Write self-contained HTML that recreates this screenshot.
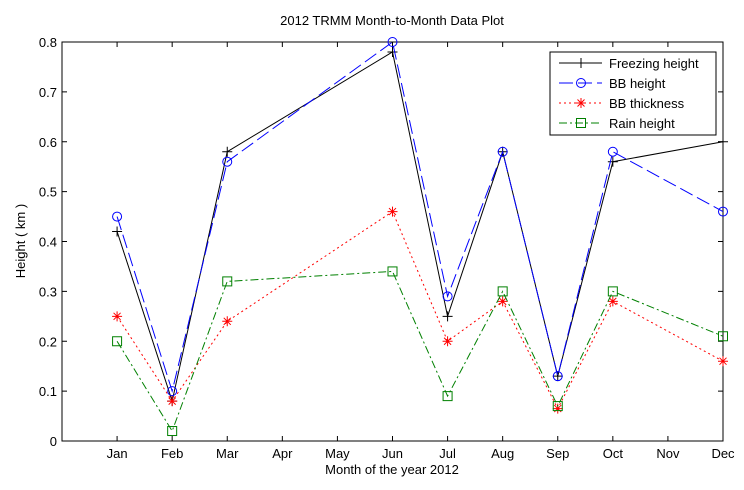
<!DOCTYPE html>
<html><head><meta charset="utf-8"><style>
body{margin:0;background:#fff;}
svg{display:block;font-family:"Liberation Sans",Arial,sans-serif;}
</style></head><body>
<svg id="chart" width="744" height="490">
<rect width="744" height="490" fill="#fff"/>
<text x="392" y="25" font-size="13" text-anchor="middle">2012 TRMM Month-to-Month Data Plot</text>
<text x="392" y="474" font-size="13" text-anchor="middle">Month of the year 2012</text>
<text x="25" y="241" font-size="13" text-anchor="middle" transform="rotate(-90 25 241)">Height ( km )</text>
<g id="axes"></g>
<g id="series"></g>
<g id="legend"></g>
</svg>
<script>
const months=["Jan","Feb","Mar","Apr","May","Jun","Jul","Aug","Sep","Oct","Nov","Dec"];
const yTicks=[0,0.1,0.2,0.3,0.4,0.5,0.6,0.7,0.8];
const yTickLabels=["0","0.1","0.2","0.3","0.4","0.5","0.6","0.7","0.8"];
const freezing=[0.42,0.08,0.58,null,null,0.78,0.25,0.58,0.13,0.56,null,0.60];
const bbHeight=[0.45,0.10,0.56,null,null,0.80,0.29,0.58,0.13,0.58,null,0.46];
const bbThick=[0.25,0.08,0.24,null,null,0.46,0.20,0.28,0.065,0.28,null,0.16];
const rain=[0.20,0.02,0.32,null,null,0.34,0.09,0.30,0.07,0.30,null,0.21];
const seriesNames=["Freezing height","BB height","BB thickness","Rain height"];

const L=62,R=723,T=42,B=441;
const xs=m=>L+(m)*(R-L)/12;
const ys=v=>B-(v/0.8)*(B-T);
const NS="http://www.w3.org/2000/svg";
function mk(tag,attrs,parent){const e=document.createElementNS(NS,tag);for(const k in attrs)e.setAttribute(k,attrs[k]);parent.appendChild(e);return e;}
const ax=document.getElementById('axes');
const box=mk('rect',{x:L,y:T,width:R-L,height:B-T,fill:'none',stroke:'#000','stroke-width':1},ax);


months.forEach((m,i)=>{const x=xs(i+1);
 mk('line',{x1:x,x2:x,y1:B,y2:B-5,stroke:'#000'},ax);
 mk('line',{x1:x,x2:x,y1:T,y2:T+5,stroke:'#000'},ax);
 const t=mk('text',{x:x,y:B+17,'font-size':13,'text-anchor':'middle'},ax);t.textContent=m;
 
 
});
yTicks.forEach((v,i)=>{const y=ys(v);
 mk('line',{x1:L,x2:L+5,y1:y,y2:y,stroke:'#000'},ax);
 mk('line',{x1:R,x2:R-5,y1:y,y2:y,stroke:'#000'},ax);
 const t=mk('text',{x:L-5,y:y+5,'font-size':13,'text-anchor':'end'},ax);t.textContent=yTickLabels[i];
 
 
});
function marker(g,type,x,y,c){
 if(type==='plus'){mk('path',{d:`M${x-5} ${y}H${x+5}M${x} ${y-5}V${y+5}`,stroke:c,fill:'none'},g);}
 else if(type==='circle'){mk('circle',{cx:x,cy:y,r:4.5,stroke:c,fill:'none'},g);}
 else if(type==='star'){mk('path',{d:`M${x-5} ${y}H${x+5}M${x} ${y-5}V${y+5}M${x-3.5} ${y-3.5}L${x+3.5} ${y+3.5}M${x-3.5} ${y+3.5}L${x+3.5} ${y-3.5}`,stroke:c,fill:'none'},g);}
 else if(type==='square'){mk('rect',{x:x-4.5,y:y-4.5,width:9,height:9,stroke:c,fill:'none'},g);}
}
const defs=[[freezing,'#000','','plus','freezing-height'],[bbHeight,'#0000ff','14 5','circle','bb-height'],[bbThick,'#ff0000','2 3','star','bb-thickness'],[rain,'#008000','8 3 2 3','square','rain-height']];
const sg=document.getElementById('series');
defs.forEach(([data,c,dash,mt,nm])=>{
 const g=mk('g',{},sg);
 
 
 const pts=data.map((v,i)=>v==null?null:[xs(i+1),ys(v)]).filter(p=>p);
 mk('polyline',{points:pts.map(p=>p.join(',')).join(' '),fill:'none',stroke:c,'stroke-dasharray':dash},g);
 pts.forEach(p=>marker(g,mt,p[0],p[1],c));
});
const lg=document.getElementById('legend');
mk('rect',{x:550,y:52,width:166,height:83,fill:'#fff',stroke:'#000'},lg);
defs.forEach(([data,c,dash,mt,nm],i)=>{
 const y=63+i*20;
 const g=mk('g',{},lg);
 
 
 mk('line',{x1:559,x2:602,y1:y,y2:y,stroke:c,'stroke-dasharray':dash},g);
 marker(g,mt,581,y,c);
 const t=mk('text',{x:609,y:y+5,'font-size':13},g);t.textContent=seriesNames[i];
});
</script>
</body></html>
